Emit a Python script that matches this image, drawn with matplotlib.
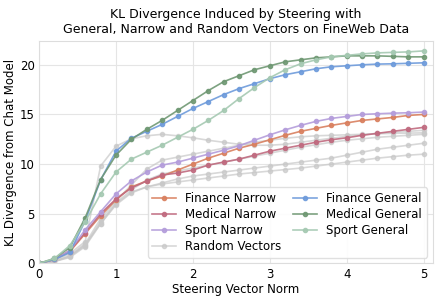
import matplotlib
matplotlib.use("Agg")
import matplotlib.pyplot as plt

# steering vector norms
norms = [0.0, 0.2, 0.4, 0.6, 0.8, 1.0, 1.2, 1.4, 1.6, 1.8, 2.0, 2.2, 2.4,
         2.6, 2.8, 3.0, 3.2, 3.4, 3.6, 3.8, 4.0, 4.2, 4.4, 4.6, 4.8, 5.0]

finance_narrow = [0, 0.4, 1.2, 3.0, 4.8, 6.4, 7.7, 8.3, 8.8, 9.4, 10.0, 10.6, 11.1,
                  11.6, 12.0, 12.45, 12.9, 13.3, 13.6, 13.9, 14.15, 14.4, 14.55, 14.7, 14.9, 15.0]
medical_narrow = [0, 0.4, 1.3, 3.1, 5.0, 6.5, 7.6, 8.3, 8.9, 9.1, 9.4, 9.9, 10.2,
                  10.5, 10.9, 11.3, 11.6, 11.9, 12.2, 12.45, 12.65, 12.9, 13.1, 13.3, 13.5, 13.7]
sport_narrow = [0, 0.4, 1.3, 3.4, 5.2, 7.0, 8.3, 9.2, 9.9, 10.2, 10.6, 11.0, 11.4,
                11.85, 12.4, 12.95, 13.45, 13.9, 14.3, 14.6, 14.8, 15.0, 15.07, 15.13, 15.17, 15.24]
finance_general = [0, 0.4, 1.1, 4.3, 8.4, 11.3, 12.6, 13.3, 14.0, 14.8, 15.6, 16.3, 17.0,
                   17.6, 18.1, 18.6, 19.0, 19.3, 19.6, 19.8, 19.9, 20.0, 20.07, 20.1, 20.15, 20.2]
medical_general = [0, 0.5, 1.6, 4.6, 8.45, 10.9, 12.5, 13.5, 14.4, 15.4, 16.4, 17.4, 18.3,
                   18.9, 19.5, 19.9, 20.3, 20.5, 20.7, 20.8, 20.9, 20.9, 20.9, 20.85, 20.8, 20.8]
sport_general = [0, 0.5, 1.8, 4.2, 7.0, 9.2, 10.5, 11.2, 11.9, 12.7, 13.5, 14.4, 15.4,
                 16.6, 17.7, 18.7, 19.5, 20.1, 20.5, 20.8, 20.95, 21.1, 21.2, 21.25, 21.3, 21.4]

# random vector runs
random_runs = [
    [0, 0.3, 1.0, 2.2, 9.8, 11.8, 12.55, 12.85, 13.0, 12.85, 12.65, 12.4, 12.2,
     12.0, 11.9, 11.9, 12.0, 12.2, 12.4, 12.6, 12.8, 12.95, 13.1, 13.2, 13.3, 13.4],
    [0, 0.2, 0.8, 2.0, 4.5, 6.3, 7.9, 9.5, 10.4, 10.7, 11.0, 11.3, 11.6,
     11.9, 12.2, 12.4, 12.6, 12.75, 12.85, 12.9, 12.95, 13.0, 13.05, 13.1, 13.12, 13.15],
    [0, 0.2, 0.7, 1.8, 4.2, 6.1, 7.4, 8.4, 9.0, 9.3, 9.6, 9.9, 10.2,
     10.5, 10.8, 11.1, 11.4, 11.7, 11.95, 12.2, 12.4, 12.55, 12.7, 12.8, 12.9, 13.0],
    [0, 0.2, 0.7, 1.9, 4.0, 5.9, 7.1, 7.7, 8.1, 8.5, 8.8, 9.0, 9.2,
     9.4, 9.6, 9.8, 10.0, 10.2, 10.4, 10.6, 10.9, 11.2, 11.5, 11.7, 11.9, 12.1],
    [0, 0.2, 0.6, 1.7, 4.0, 6.0, 7.2, 7.7, 8.0, 8.2, 8.4, 8.6, 8.8,
     9.0, 9.15, 9.3, 9.45, 9.6, 9.8, 10.0, 10.2, 10.4, 10.6, 10.75, 10.9, 11.0],
]

fig = plt.figure(figsize=(4.39, 2.99), dpi=100)
ax = fig.add_axes([0.089, 0.119, 0.897, 0.744])

line_kw = dict(marker='o', markersize=3, linewidth=1.2)

# random vectors first (background)
for i, run in enumerate(random_runs):
    ax.plot(norms, run, color='#c8c8c8', alpha=0.7,
            label='Random Vectors' if i == 0 else None, **line_kw)

ax.plot(norms, finance_narrow, color='#d9805f', alpha=0.9, label='Finance Narrow', **line_kw)
ax.plot(norms, medical_narrow, color='#c06a7f', alpha=0.9, label='Medical Narrow', **line_kw)
ax.plot(norms, sport_narrow, color='#b49ddb', alpha=0.9, label='Sport Narrow', **line_kw)
ax.plot(norms, finance_general, color='#6e9bdb', alpha=0.9, label='Finance General', **line_kw)
ax.plot(norms, medical_general, color='#6f9873', alpha=0.9, label='Medical General', **line_kw)
ax.plot(norms, sport_general, color='#a5c9b2', alpha=0.9, label='Sport General', **line_kw)

ax.set_xlim(0, 5.12)
ax.set_ylim(0, 22.4)
ax.set_xticks([0, 1, 2, 3, 4, 5])
ax.set_yticks([0, 5, 10, 15, 20])
ax.tick_params(labelsize=8.5, length=0, pad=3)
ax.grid(True, color='#e5e5e5', linewidth=0.8)
ax.set_axisbelow(True)
for s in ax.spines.values():
    s.set_color('#dddddd')

ax.set_xlabel('Steering Vector Norm', fontsize=8.5, labelpad=2)
ax.set_ylabel('KL Divergence from Chat Model', fontsize=8.5, labelpad=2)
ax.set_title('KL Divergence Induced by Steering with\nGeneral, Narrow and Random Vectors on FineWeb Data',
             fontsize=9, pad=6)

# legend order: narrow + random in first column, general in second
handles, labels = ax.get_legend_handles_labels()
order = ['Finance Narrow', 'Medical Narrow', 'Sport Narrow', 'Random Vectors',
         'Finance General', 'Medical General', 'Sport General']
hmap = dict(zip(labels, handles))
ax.legend([hmap[k] for k in order], order, loc='lower right', ncol=2,
          fontsize=8.5, frameon=True, framealpha=0.9, edgecolor='#dddddd',
          handlelength=2.0, columnspacing=1.0, labelspacing=0.25,
          borderpad=0.4, handletextpad=0.8)

fig.savefig('out.png', dpi=100)
